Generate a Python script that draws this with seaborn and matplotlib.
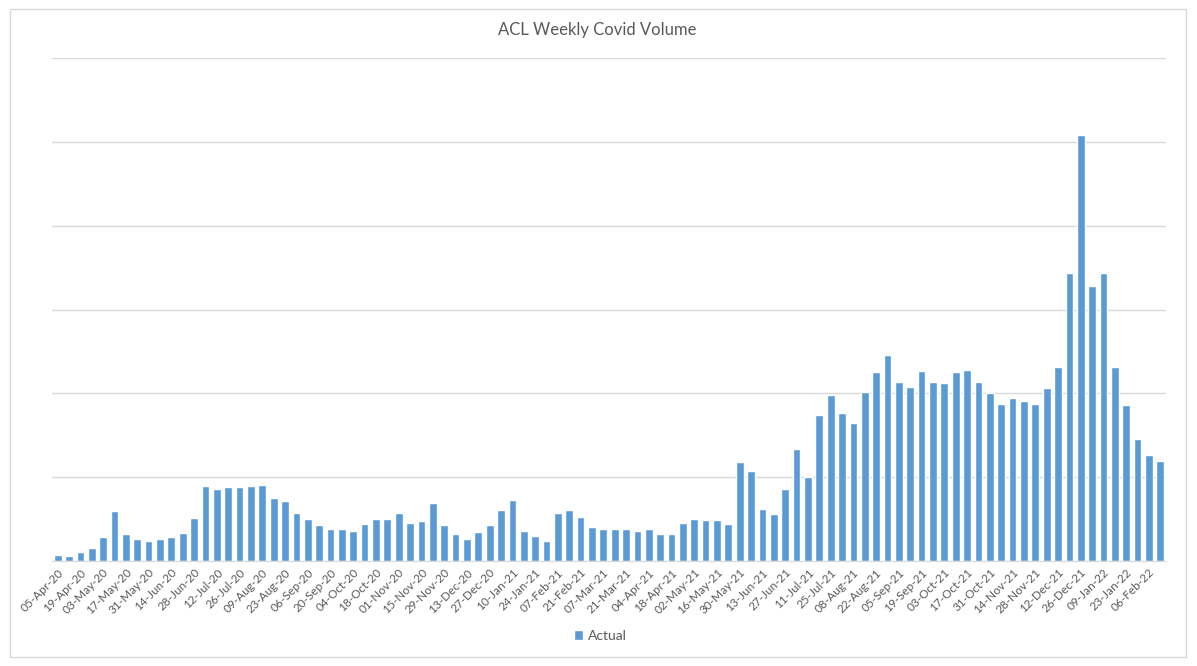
import numpy as np
import pandas as pd
import seaborn as sns
import matplotlib.pyplot as plt
from matplotlib.patches import Rectangle

# weekly categories (week starting Sunday)
week_start = "2020-04-05"
n_weeks = 98
weeks = pd.date_range(week_start, periods=n_weeks, freq="7D").strftime("%d-%b-%y").tolist()

# weekly volume (y axis unlabelled in the original)
actual = [8, 6, 11, 16, 29, 60, 32, 27, 24, 27,
          29, 34, 51, 90, 86, 88, 88, 90, 91, 76,
          72, 58, 50, 43, 39, 38, 36, 44, 50, 50,
          57, 46, 48, 70, 43, 32, 27, 35, 43, 61,
          73, 36, 30, 24, 57, 61, 53, 41, 38, 38,
          39, 36, 38, 33, 32, 46, 50, 49, 49, 44,
          118, 107, 62, 56, 86, 134, 101, 174, 198, 177,
          165, 202, 225, 246, 214, 208, 227, 214, 212, 225,
          228, 214, 200, 187, 194, 191, 188, 207, 232, 343,
          508, 328, 343, 231, 186, 146, 127, 119]

series_name = "Actual"
chart_title = "ACL Weekly Covid Volume"

df = pd.DataFrame({"Week": weeks, "Volume": actual})

sns.set_style("white")
plt.rcParams['font.family'] = ['Lato', 'DejaVu Sans']

fig = plt.figure(figsize=(11.97, 6.66), dpi=100)
ax = fig.add_axes([52/1197, 1 - 561.3/666, (1166-52)/1197, (561.3-57.7)/666])

sns.barplot(data=df, x="Week", y="Volume", color="#5B9BD5", saturation=1,
            width=0.68, label=series_name, ax=ax)

ax.set_ylim(0, 600)
ax.set_xlim(-0.5, n_weeks - 0.5)
ax.set_yticks(np.arange(0, 601, 100))
ax.set_yticklabels([])
ax.tick_params(axis='y', length=0)
ax.yaxis.grid(True, color="#d9d9d9", linewidth=1)
ax.set_axisbelow(True)
for s in ["top", "right", "left"]:
    ax.spines[s].set_visible(False)
ax.spines["bottom"].set_color("#d9d9d9")

# every other week labelled, Excel-style diagonal
ax.set_xticks(range(0, n_weeks, 2))
ax.set_xticklabels(weeks[::2], rotation=45, ha="right", rotation_mode="anchor",
                   fontsize=8.5, color="#595959")
ax.set_xticks(np.arange(-0.5, n_weeks, 1), minor=True)
ax.tick_params(axis='x', which='major', length=0, pad=4)
ax.tick_params(axis='x', which='minor', length=4, color="#d9d9d9", width=0.8)
ax.set_xlabel("")
ax.set_ylabel("")

fig.text(597/1197, 1 - 30/666, chart_title, fontsize=12, color="#595959",
         ha="center", va="center")

handles, labels = ax.get_legend_handles_labels()
if ax.get_legend() is not None:
    ax.get_legend().remove()
leg = fig.legend(handles, labels, loc="center", bbox_to_anchor=(600/1197, 1 - 636/666),
                 frameon=False, fontsize=10, handlelength=0.7, handleheight=0.7,
                 handletextpad=0.3, borderaxespad=0)
for t in leg.get_texts():
    t.set_color("#595959")

# outer chart frame
fig.patches.append(Rectangle((10/1197, 1 - 657/666), 1176/1197, 648/666,
                             transform=fig.transFigure, fill=False,
                             edgecolor="#d9d9d9", linewidth=1))

plt.savefig("out.png", dpi=100)
